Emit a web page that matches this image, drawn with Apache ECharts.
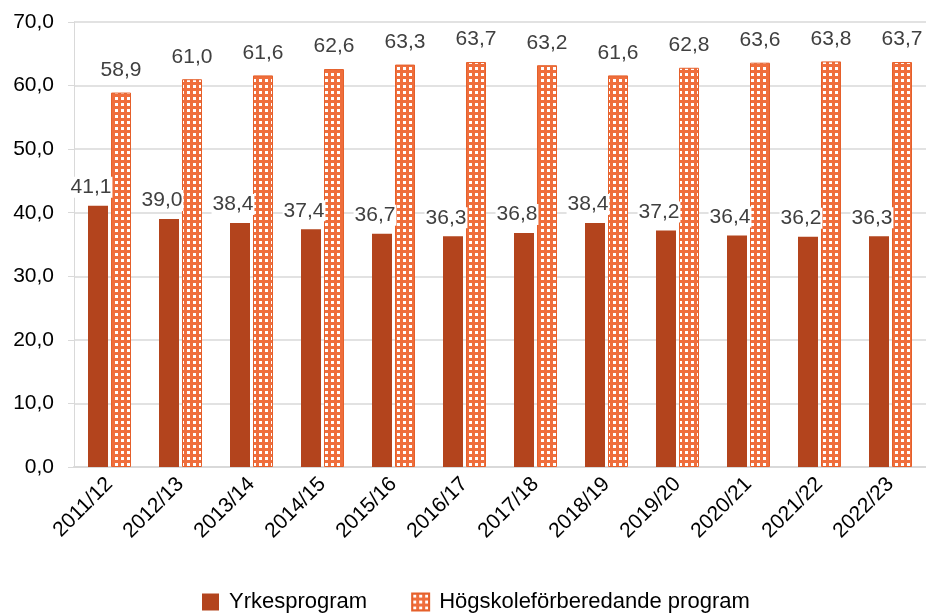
<!DOCTYPE html>
<html>
<head>
<meta charset="utf-8">
<script src="https://cdn.jsdelivr.net/npm/echarts@6/dist/echarts.min.js"></script>
<style>
  html, body { margin: 0; padding: 0; background: #fff; }
  #chart { width: 926px; height: 614px; }
</style>
</head>
<body>
<div id="chart"></div>
<script>
const categories = ['2011/12', '2012/13', '2013/14', '2014/15', '2015/16', '2016/17',
  '2017/18', '2018/19', '2019/20', '2020/21', '2021/22', '2022/23'];
const yrkesprogram = [41.1, 39.0, 38.4, 37.4, 36.7, 36.3, 36.8, 38.4, 37.2, 36.4, 36.2, 36.3];
const hogskoleforberedande = [58.9, 61.0, 61.6, 62.6, 63.3, 63.7, 63.2, 61.6, 62.8, 63.6, 63.8, 63.7];
const seriesNames = ['Yrkesprogram', 'Högskoleförberedande program'];

// dotted fill for the second series
function makePattern () {
  const c = document.createElement('canvas');
  c.width = 6;
  c.height = 6;
  const ctx = c.getContext('2d');
  ctx.fillStyle = '#EF6E3C';
  ctx.fillRect(0, 0, 6, 6);
  ctx.fillStyle = '#ffffff';
  ctx.fillRect(1, 1, 3, 3);
  return c;
}

const fmt = v => v.toFixed(1).replace('.', ',');
const font = 'Liberation Sans, Arial, sans-serif';

const myChart = echarts.init(document.getElementById('chart'));
myChart.setOption({
  animation: false,
  textStyle: { fontFamily: font },
  grid: { left: 74, right: 0, top: 22, bottom: 147 },
  legend: {
    top: 586,
    left: 197,
    icon: 'rect',
    itemWidth: 17,
    itemHeight: 17,
    itemGap: 44,
    textStyle: { fontSize: 22, color: '#000', fontFamily: font, padding: [0, 0, 0, 5] },
    data: seriesNames
  },
  xAxis: {
    type: 'category',
    data: categories,
    axisTick: { show: false },
    axisLine: { lineStyle: { color: '#d9d9d9', width: 2 } },
    axisLabel: { rotate: 45, fontSize: 21, color: '#000', margin: 14, interval: 0 }
  },
  yAxis: {
    type: 'value',
    min: 0,
    max: 70,
    interval: 10,
    axisLine: { show: true, lineStyle: { color: '#d9d9d9' } },
    axisTick: { show: true, length: 6, lineStyle: { color: '#d9d9d9' } },
    splitLine: { lineStyle: { color: '#d9d9d9', width: 1.5 } },
    axisLabel: { fontSize: 21, color: '#000', margin: 20, formatter: fmt }
  },
  series: [
    {
      name: seriesNames[0],
      type: 'bar',
      barWidth: 20,
      barGap: '15%',
      data: yrkesprogram,
      itemStyle: { color: '#B3441D' },
      label: {
        show: true, position: 'top', distance: 8, offset: [-7, 0],
        fontSize: 21, color: '#404040', backgroundColor: '#fff', padding: [0, 1],
        formatter: p => fmt(p.value)
      }
    },
    {
      name: seriesNames[1],
      type: 'bar',
      barWidth: 20,
      data: hogskoleforberedande,
      itemStyle: {
        color: { image: makePattern(), repeat: 'repeat' },
        borderColor: '#E5602B',
        borderWidth: 1
      },
      label: {
        show: true, position: 'top', distance: 12, fontSize: 21, color: '#404040',
        formatter: p => fmt(p.value)
      }
    }
  ]
});
</script>
</body>
</html>
